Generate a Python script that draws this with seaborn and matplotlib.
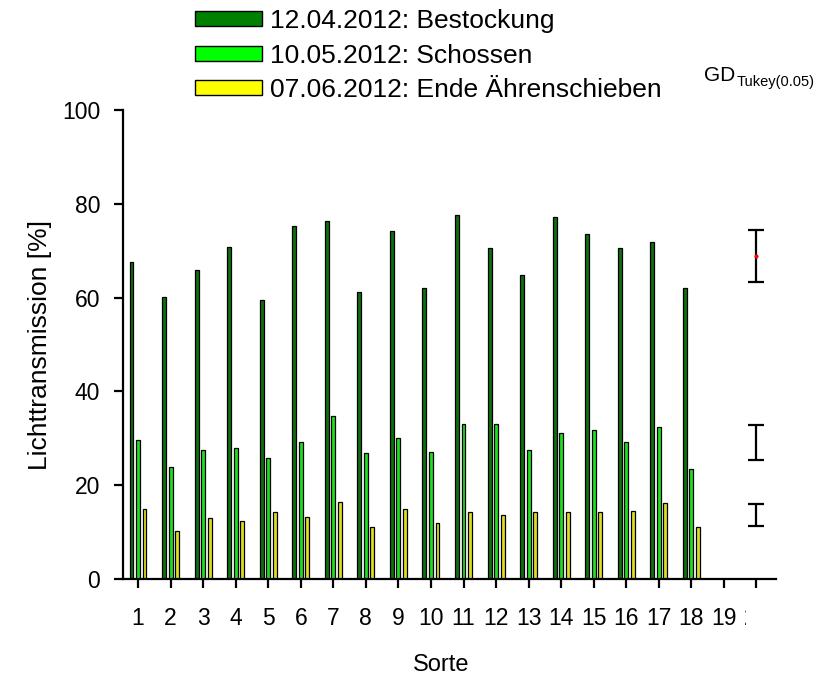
import numpy as np
import pandas as pd
import seaborn as sns
import matplotlib
matplotlib.use("Agg")
import matplotlib.pyplot as plt
from matplotlib.patches import Patch
from matplotlib.transforms import Bbox

# ---- data -------------------------------------------------------------
sorten = list(range(1, 19))
termine = ["12.04.2012: Bestockung",
           "10.05.2012: Schossen",
           "07.06.2012: Ende Ährenschieben"]
bestockung = [67.5, 60.1, 65.8, 70.8, 59.4, 75.2, 76.3, 61.1, 74.1,
              62.1, 77.6, 70.5, 64.8, 77.2, 73.6, 70.5, 71.9, 62.1]
schossen = [29.6, 23.8, 27.4, 27.9, 25.8, 29.2, 34.7, 26.8, 30.1,
            27.0, 33.0, 33.0, 27.6, 31.1, 31.8, 29.2, 32.5, 23.5]
aehren = [15.0, 10.3, 13.1, 12.4, 14.3, 13.3, 16.4, 11.1, 15.0,
          11.9, 14.2, 13.7, 14.3, 14.3, 14.3, 14.4, 16.3, 11.0]
# Tukey critical differences (half width of each GD bar)
gd_half = [5.5, 3.7, 2.35]
x_ticklabels = [str(i) for i in range(1, 21)]
farben = ["#008000", "#00FF00", "#FFFF00"]

df = pd.DataFrame({
    "Sorte": sorten * 3,
    "Termin": np.repeat(termine, len(sorten)),
    "Wert": bestockung + schossen + aehren,
})
gd_center = [np.mean(bestockung), np.mean(schossen), np.mean(aehren)]

# ---- style ------------------------------------------------------------
sns.set_style("ticks")
plt.rcParams["font.family"] = ["Liberation Sans", "DejaVu Sans"]
plt.rcParams["text.color"] = "black"
plt.rcParams["axes.labelcolor"] = "black"
plt.rcParams["axes.edgecolor"] = "black"
plt.rcParams["xtick.color"] = "black"
plt.rcParams["ytick.color"] = "black"

W, H = 815, 675
fig = plt.figure(figsize=(W / 100, H / 100), dpi=100)
ax = fig.add_axes([123 / W, 1 - 579 / H, (776 - 123) / W, (579 - 110) / H])

sns.barplot(data=df, x="Sorte", y="Wert", hue="Termin", hue_order=termine,
            palette=farben, width=0.6, gap=0.4, edgecolor="black",
            linewidth=0.9, errorbar=None, legend=False, ax=ax)

# GD bars at the free position right of the last variety
gd_x = 19
ax.errorbar([gd_x] * 3, gd_center, yerr=gd_half, fmt="none", ecolor="black",
            elinewidth=1.6, capsize=6, capthick=1.6, clip_on=False, zorder=5)
ax.plot([gd_x], [gd_center[0]], "o", color="red", ms=3, mec="none",
        clip_on=False, zorder=6)

# axes
ax.set_ylim(0, 100)
ax.set_yticks([0, 20, 40, 60, 80, 100])
ax.set_xticks(range(20))
ax.set_xticklabels(x_ticklabels)
ax.set_xlim(-0.461, 19.6)
sns.despine(ax=ax)
for s in ("left", "bottom"):
    ax.spines[s].set_linewidth(1.6)
    ax.spines[s].set_color("black")
ax.tick_params(axis="both", direction="out", length=6.5, width=1.6,
               labelsize=16.5, colors="black")
ax.tick_params(axis="y", pad=10)
ax.tick_params(axis="x", pad=13.5)
ax.grid(False)

# the last tick label runs off the drawing area
last = ax.get_xticklabels()[-1]
last.set_clip_on(True)
last.set_clip_box(Bbox([[0, 0], [746, H]]))

ax.set_xlabel("Sorte", fontsize=17)
ax.xaxis.set_label_coords(0.487, -0.160)
ax.set_ylabel("Lichttransmission [%]", fontsize=19)
ax.yaxis.set_label_coords(-0.109, 0.5)

# legend above the plot
handles = [Patch(facecolor=c, edgecolor="black", linewidth=1.0, label=t)
           for c, t in zip(farben, termine)]
fig.legend(handles=handles, loc="upper left",
           bbox_to_anchor=(195 / W, 1 - 9 / H), frameon=False,
           fontsize=19, handlelength=2.55, handleheight=0.5,
           handletextpad=0.3, labelspacing=0.4, borderpad=0,
           borderaxespad=0)

# GD label
fig.text(704 / W, 1 - 81 / H, "GD", fontsize=15, ha="left", va="baseline")
fig.text(737 / W, 1 - 86 / H, "Tukey(0.05)", fontsize=10.5, ha="left",
         va="baseline")

fig.savefig("out.png", dpi=100)
